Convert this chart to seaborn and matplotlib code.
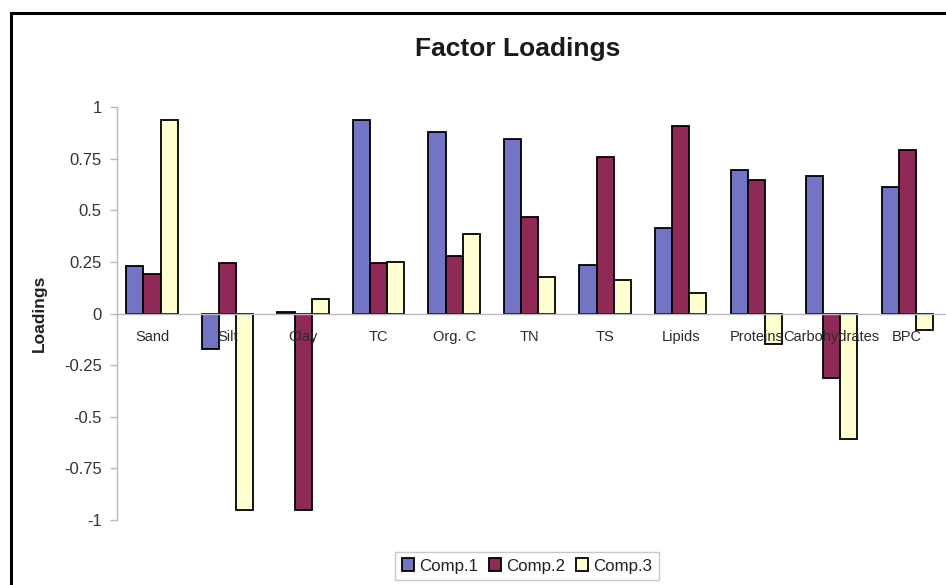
import matplotlib
matplotlib.use("Agg")
import matplotlib.pyplot as plt
import seaborn as sns
import pandas as pd
from matplotlib.patches import Rectangle

categories = ["Sand", "Silt", "Clay", "TC", "Org. C", "TN", "TS", "Lipids",
              "Proteins", "Carbohydrates", "BPC"]
comp1 = [0.228, -0.17, 0.008, 0.937, 0.88, 0.845, 0.233, 0.413, 0.694, 0.665, 0.612]
comp2 = [0.19, 0.243, -0.95, 0.243, 0.28, 0.467, 0.757, 0.908, 0.646, -0.31, 0.79]
comp3 = [0.937, -0.95, 0.068, 0.248, 0.383, 0.175, 0.16, 0.10, -0.146, -0.607, -0.078]
series_names = ["Comp.1", "Comp.2", "Comp.3"]
yticks = [-1, -0.75, -0.5, -0.25, 0, 0.25, 0.5, 0.75, 1]
ytick_labels = ["-1", "-0.75", "-0.5", "-0.25", "0", "0.25", "0.5", "0.75", "1"]
colors = ["#7474C4", "#8E2A55", "#FFFFD2"]

df = pd.DataFrame({
    "Category": categories * 3,
    "Series": [s for s in series_names for _ in categories],
    "Loading": comp1 + comp2 + comp3,
})

sns.set_theme(style="white")
plt.rcParams["font.family"] = ["Liberation Sans", "DejaVu Sans"]

fig = plt.figure(figsize=(9.46, 5.85), dpi=100)
ax = fig.add_axes([117 / 946, 1 - 520 / 585, (945 - 117) / 946, (520 - 107) / 585])

sns.barplot(data=df, x="Category", y="Loading", hue="Series", order=categories,
            hue_order=series_names, palette=colors, width=0.68,
            edgecolor="black", linewidth=1.3, ax=ax, legend=True, saturation=1)

ax.set_axisbelow(False)
ax.set_ylim(-1, 1)
ax.set_xlim(-0.464, 10.5)
ax.set_yticks(yticks)
ax.set_yticklabels(ytick_labels, fontsize=12, color="#333333")
ax.set_xlabel("")
ax.set_ylabel("Loadings", fontsize=12.5, fontweight="bold", color="#222222", labelpad=12)

for s in ["top", "right"]:
    ax.spines[s].set_visible(False)
ax.spines["left"].set_color("#B8B8C0")
ax.spines["left"].set_linewidth(1.0)
ax.spines["bottom"].set_position(("data", 0))
ax.spines["bottom"].set_color("#B8B8C0")
ax.spines["bottom"].set_linewidth(1.0)
ax.tick_params(axis="y", which="major", left=True, length=5, width=1, color="#B8B8C0", pad=6)
ax.tick_params(axis="x", which="major", bottom=False, length=0, pad=12, labelsize=10.5,
               labelcolor="#2a2a2a")
ax.set_zorder(1)

leg = ax.legend(loc="center", bbox_to_anchor=((527 - 117) / (945 - 117), (1 - 566 / 585 - (1 - 520 / 585)) / ((520 - 107) / 585)),
                ncol=3, frameon=True, fontsize=12.2, handlelength=0.75, handleheight=0.75,
                handletextpad=0.3, columnspacing=0.6, borderpad=0.4, fancybox=False)
leg.get_frame().set_edgecolor("#BBBBBB")
leg.get_frame().set_linewidth(1.0)
for t in leg.get_texts():
    t.set_color("#222222")

fig.text(518 / 946, 1 - 49 / 585, "Factor Loadings", ha="center", va="center",
         fontsize=19, fontweight="bold", color="#1a1a1a")

fig.patches.append(Rectangle((11 / 946, -0.1), 1.2, 1 - 13 / 585 + 0.1, transform=fig.transFigure,
                             fill=False, edgecolor="black", linewidth=2.2, zorder=0))

fig.savefig("out.png", dpi=100)
